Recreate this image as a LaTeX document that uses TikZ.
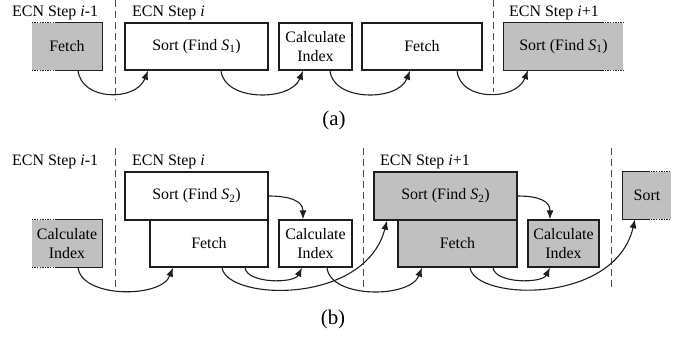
\documentclass[tikz,border=0pt]{standalone}
\usepackage{fontspec}
\setmainfont{Liberation Serif}
\usetikzlibrary{arrows.meta,calc}

\definecolor{ink}{RGB}{30,30,30}
\definecolor{shade}{RGB}{192,192,192}

\tikzset{
  box/.style={draw=ink, line width=1.3bp, fill=white, inner sep=0pt, align=center,
              font=\fontsize{16}{19}\selectfont},
  greybox/.style={box, fill=shade},
  openbox/.style={fill=shade, inner sep=0pt, align=center,
                  font=\fontsize{16}{19}\selectfont},
  edge/.style={draw=ink, line width=1.3bp},
  dots/.style={draw=ink, line width=1.3bp, dash pattern=on 1.3bp off 1.3bp},
  arr/.style={draw=ink, line width=1.1bp, -{Latex[length=9bp,width=7bp]}},
  divider/.style={draw=ink!80, line width=1bp, dash pattern=on 7bp off 4bp},
  steplabel/.style={anchor=west, inner sep=0pt, font=\fontsize{16}{19}\selectfont},
  caption/.style={inner sep=0pt, font=\fontsize{21}{24}\selectfont}
}

\newcommand{\Sone}{\textit{S}\textsubscript{1}}
\newcommand{\Stwo}{\textit{S}\textsubscript{2}}

\begin{document}
\begin{tikzpicture}[x=1bp, y=-1bp]
\useasboundingbox (0,0) rectangle (689,336);

% ---------------- (a) ----------------
\node[steplabel] (la0) at (12,13) {ECN Step \textit{i}-1};
\node[steplabel] (la1) at (132,13) {ECN Step \textit{i}};
\node[steplabel] (la2) at (509,13) {ECN Step \textit{i}+1};

\coordinate (da1t) at (115,0);  \coordinate (da1b) at (115,100);
\coordinate (da2t) at (493,0);  \coordinate (da2b) at (493,92);
\draw[divider] (da1t) -- (da1b);
\draw[divider] (da2t) -- (da2b);

% previous step, cut off on the left
\node[openbox, minimum width=70bp, minimum height=47bp] (fA0) at (67,46.5) {Fetch};
\draw[edge] ([xshift=23bp]fA0.north west) -- (fA0.north east) -- (fA0.south east)
            -- ([xshift=23bp]fA0.south west);
\draw[dots] (fA0.north west) -- ([xshift=23bp]fA0.north west);
\draw[dots] (fA0.south west) -- ([xshift=23bp]fA0.south west);

\node[box, minimum width=143bp, minimum height=47bp] (sA1) at (196.5,46.5) {Sort (Find \Sone)};
\node[box, minimum width=73bp, minimum height=47bp] (cA1) at (315.5,46.5) {Calculate\\Index};
\node[box, minimum width=120bp, minimum height=47bp] (fA1) at (422,46.5) {Fetch};

% next step, cut off on the right
\node[openbox, minimum width=119bp, minimum height=47bp] (sA2) at (563.5,46.5) {Sort (Find \Sone)};
\draw[edge] ([xshift=-21bp]sA2.north east) -- (sA2.north west) -- (sA2.south west)
            -- ([xshift=-21bp]sA2.south east);
\draw[dots] ([xshift=-21bp]sA2.north east) -- (sA2.north east);
\draw[dots] ([xshift=-21bp]sA2.south east) -- (sA2.south east);

\draw[arr] ([xshift=11bp]fA0.south) .. controls +(3,31) and +(-12,31) .. ([xshift=-48.5bp]sA1.south);
\draw[arr] ([xshift=24.5bp]sA1.south) .. controls +(3,31) and +(-12,31) .. ([xshift=-12.5bp]cA1.south);
\draw[arr] ([xshift=14.5bp]cA1.south) .. controls +(3,31) and +(-12,31) .. ([xshift=-12bp]fA1.south);
\draw[arr] ([xshift=35bp]fA1.south) .. controls +(3,31) and +(-12,31) .. ([xshift=-35.5bp]sA2.south);

\node[caption] (capa) at (334,120) {(a)};

% ---------------- (b) ----------------
\node[steplabel] (lb0) at (12,162) {ECN Step \textit{i}-1};
\node[steplabel] (lb1) at (132,162) {ECN Step \textit{i}};
\node[steplabel] (lb2) at (380,162) {ECN Step \textit{i}+1};

\coordinate (db1t) at (115,148);  \coordinate (db1b) at (115,287);
\coordinate (db2t) at (363,148);  \coordinate (db2b) at (363,287);
\coordinate (db3t) at (611,148);  \coordinate (db3b) at (611,290);
\draw[divider] (db1t) -- (db1b);
\draw[divider] (db2t) -- (db2b);
\draw[divider] (db3t) -- (db3b);

% previous step, cut off on the left
\node[openbox, minimum width=70bp, minimum height=47bp] (cB0) at (67,243.5) {Calculate\\Index};
\draw[edge] ([xshift=23bp]cB0.north west) -- (cB0.north east) -- (cB0.south east)
            -- ([xshift=23bp]cB0.south west);
\draw[dots] (cB0.north west) -- ([xshift=23bp]cB0.north west);
\draw[dots] (cB0.south west) -- ([xshift=23bp]cB0.south west);

% step i
\node[box, minimum width=143bp, minimum height=48bp] (sB1) at (196.5,196) {Sort (Find \Stwo)};
\node[box, minimum width=118bp, minimum height=47bp] (fB1) at (209,243.5) {Fetch};
\node[box, minimum width=73bp, minimum height=47bp] (cB1) at (315.5,243.5) {Calculate\\Index};

% step i+1
\node[greybox, minimum width=143bp, minimum height=48bp] (sB2) at (445.5,196) {Sort (Find \Stwo)};
\node[greybox, minimum width=119bp, minimum height=47bp] (fB2) at (457.5,243.5) {Fetch};
\node[greybox, minimum width=71bp, minimum height=47bp] (cB2) at (563.5,243.5) {Calculate\\Index};

% following step, cut off on the right
\node[openbox, minimum width=48bp, minimum height=47bp] (sB3) at (647,195.5) {Sort};
\draw[edge] ([xshift=-23bp]sB3.north east) -- (sB3.north west) -- (sB3.south west)
            -- ([xshift=-23bp]sB3.south east);
\draw[dots] ([xshift=-23bp]sB3.north east) -- (sB3.north east);
\draw[dots] ([xshift=-23bp]sB3.south east) -- (sB3.south east);

% dependencies
\draw[arr] ([xshift=11bp]cB0.south) .. controls +(3,31) and +(-12,31) .. ([xshift=-36bp]fB1.south);
\draw[arr] (sB1.east) .. controls +(22,0) and +(0,-18) .. ([xshift=-12.5bp]cB1.north);
\draw[arr] ([xshift=36bp]fB1.south) .. controls +(2,16) and +(-8,16) .. ([xshift=-13.5bp]cB1.south);
\draw[arr] ([xshift=13bp]fB1.south) .. controls +(5,33) and +(-22,85) .. ([xshift=-58.5bp]sB2.south);
\draw[arr] ([xshift=11.5bp]cB1.south) .. controls +(3,31) and +(-12,31) .. ([xshift=-35.5bp]fB2.south);
\draw[arr] (sB2.east) .. controls +(22,0) and +(0,-18) .. ([xshift=-13.5bp]cB2.north);
\draw[arr] ([xshift=35.5bp]fB2.south) .. controls +(2,16) and +(-8,16) .. ([xshift=-13.5bp]cB2.south);
\draw[arr] ([xshift=12.5bp]fB2.south) .. controls +(5,33) and +(-20,86) .. ([xshift=-12bp]sB3.south);

\node[caption] (capb) at (333,319) {(b)};
\end{tikzpicture}
\end{document}
